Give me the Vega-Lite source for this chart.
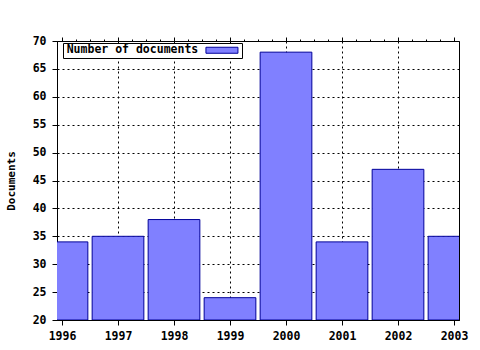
{
  "$schema": "https://vega.github.io/schema/vega-lite/v6.json",
  "width": 402,
  "height": 279,
  "autosize": {"type": "none"},
  "padding": {"left": 57, "top": 41, "right": 21, "bottom": 30},
  "background": "white",
  "config": {
    "view": {"stroke": "black", "strokeWidth": 1},
    "axis": {
      "labelFont": "DejaVu Sans Mono",
      "labelFontWeight": "bold",
      "labelFontSize": 11.5,
      "labelColor": "black",
      "titleFont": "DejaVu Sans Mono",
      "titleFontWeight": "bold",
      "titleFontSize": 11,
      "titleColor": "black",
      "domainColor": "black",
      "tickColor": "black",
      "gridColor": "black",
      "gridDash": [2, 3],
      "gridOpacity": 1,
      "gridWidth": 1
    },
    "legend": {
      "orient": "none",
      "legendX": 6,
      "legendY": 2,
      "strokeColor": "black",
      "fillColor": "white",
      "padding": 1.5,
      "symbolType": "M-4,-0.75H4V0.75H-4Z",
      "symbolSize": 64,
      "symbolStrokeColor": "#000099",
      "symbolStrokeWidth": 1,
      "symbolOffset": 151.7,
      "labelOffset": -161,
      "labelFont": "DejaVu Sans Mono",
      "labelFontWeight": "bold",
      "labelFontSize": 11.5,
      "labelColor": "black"
    }
  },
  "data": {
    "values": [
      {"year": 1996, "documents": 34},
      {"year": 1997, "documents": 35},
      {"year": 1998, "documents": 38},
      {"year": 1999, "documents": 24},
      {"year": 2000, "documents": 68},
      {"year": 2001, "documents": 34},
      {"year": 2002, "documents": 47},
      {"year": 2003, "documents": 35}
    ]
  },
  "layer": [
    {
      "mark": {"type": "bar", "size": 51.7, "stroke": "#000099", "strokeWidth": 1, "clip": true},
      "encoding": {
        "x": {
          "field": "year",
          "type": "quantitative",
          "scale": {"domain": [1996, 2003], "nice": false, "zero": false},
          "axis": {
            "orient": "bottom",
            "title": null,
            "values": [1996, 1996.25, 1996.5, 1996.75, 1997, 1997.25, 1997.5, 1997.75, 1998, 1998.25, 1998.5, 1998.75, 1999, 1999.25, 1999.5, 1999.75, 2000, 2000.25, 2000.5, 2000.75, 2001, 2001.25, 2001.5, 2001.75, 2002, 2002.25, 2002.5, 2002.75, 2003],
            "format": "d",
            "labelExpr": "datum.value % 1 === 0 ? datum.label : ''",
            "labelOverlap": false,
            "labelFlush": false,
            "labelPadding": 5,
            "tickSize": {"condition": {"test": "datum.value % 1 === 0", "value": 5}, "value": 2},
            "grid": true,
            "gridOpacity": {"condition": {"test": "datum.value % 1 === 0 && datum.value > 1996 && datum.value < 2003", "value": 1}, "value": 0},
            "domain": true
          }
        },
        "y": {
          "field": "documents",
          "type": "quantitative",
          "scale": {"domain": [20, 70], "nice": false, "zero": false},
          "axis": {
            "title": "Documents",
            "values": [20, 25, 30, 35, 40, 45, 50, 55, 60, 65, 70],
            "tickSize": 5,
            "labelPadding": 6,
            "titlePadding": 16,
            "grid": true
          }
        },
        "y2": {"datum": 20},
        "color": {
          "datum": "Number of documents",
          "scale": {"range": ["#8080ff"]},
          "legend": {"title": null}
        }
      }
    },
    {
      "mark": {"type": "tick", "opacity": 0},
      "encoding": {
        "x": {
          "field": "year",
          "type": "quantitative",
          "axis": {
            "orient": "top",
            "title": null,
            "values": [1996, 1996.25, 1996.5, 1996.75, 1997, 1997.25, 1997.5, 1997.75, 1998, 1998.25, 1998.5, 1998.75, 1999, 1999.25, 1999.5, 1999.75, 2000, 2000.25, 2000.5, 2000.75, 2001, 2001.25, 2001.5, 2001.75, 2002, 2002.25, 2002.5, 2002.75, 2003],
            "labels": false,
            "grid": false,
            "domain": false,
            "tickSize": {"condition": {"test": "datum.value % 1 === 0", "value": 4}, "value": 2}
          }
        }
      }
    }
  ],
  "resolve": {"axis": {"x": "independent"}}
}
